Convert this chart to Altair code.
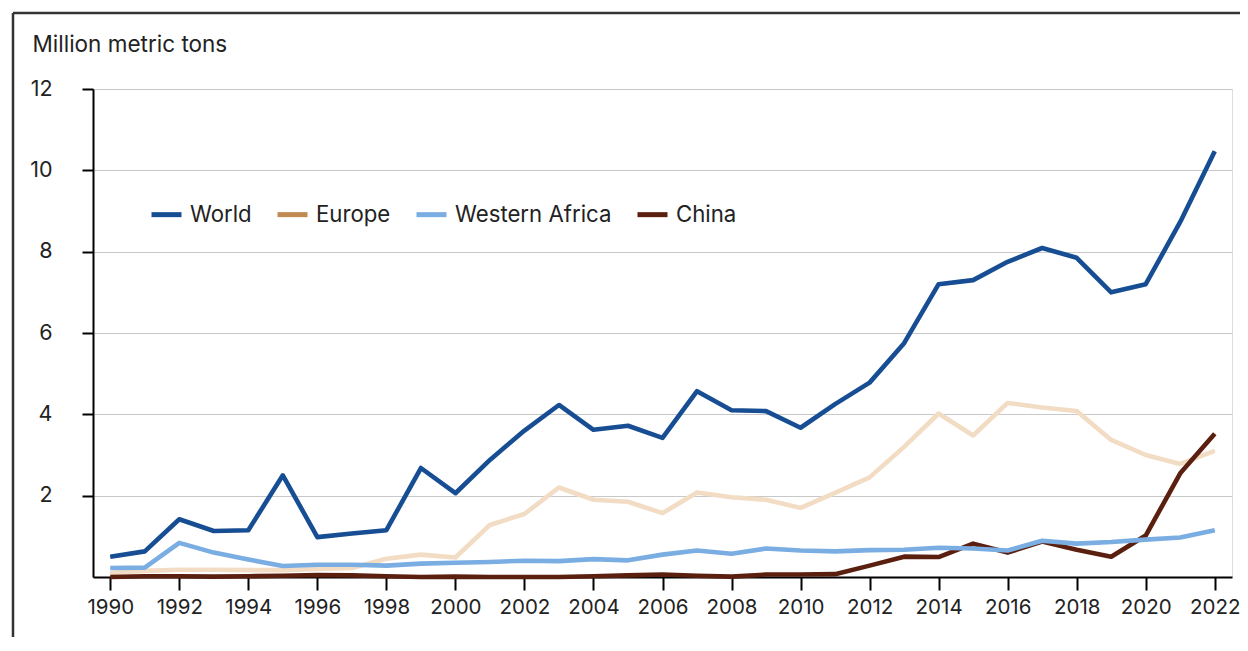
import altair as alt
import pandas as pd

years = list(range(1990, 2023))
world = [0.50, 0.63, 1.42, 1.13, 1.15, 2.50, 0.98, 1.07, 1.15, 2.68, 2.06, 2.88, 3.60, 4.23,
         3.62, 3.72, 3.42, 4.57, 4.10, 4.08, 3.67, 4.25, 4.78, 5.75, 7.20, 7.30, 7.75, 8.09,
         7.85, 7.00, 7.20, 8.73, 10.47]
europe = [0.10, 0.15, 0.18, 0.18, 0.17, 0.17, 0.20, 0.22, 0.45, 0.55, 0.48, 1.28, 1.55, 2.20,
          1.90, 1.85, 1.57, 2.08, 1.96, 1.90, 1.70, 2.07, 2.45, 3.20, 4.02, 3.48, 4.28, 4.17,
          4.08, 3.37, 3.00, 2.78, 3.10]
western_africa = [0.22, 0.23, 0.84, 0.60, 0.43, 0.27, 0.30, 0.30, 0.28, 0.33, 0.35, 0.37, 0.40,
                  0.39, 0.44, 0.41, 0.55, 0.65, 0.57, 0.70, 0.65, 0.63, 0.66, 0.67, 0.72, 0.70,
                  0.65, 0.89, 0.82, 0.86, 0.92, 0.97, 1.15]
china = [0.00, 0.02, 0.02, 0.01, 0.02, 0.03, 0.05, 0.04, 0.02, 0.00, 0.01, 0.00, 0.00, 0.00,
         0.02, 0.04, 0.06, 0.03, 0.01, 0.06, 0.06, 0.07, 0.28, 0.50, 0.49, 0.82, 0.60, 0.87,
         0.67, 0.50, 1.02, 2.55, 3.52]

series_names = ["World", "Europe", "Western Africa", "China"]
line_colors = ["#174e93", "#f2dcc4", "#7aade2", "#5b1f10"]
legend_colors = ["#174e93", "#c08a50", "#7aade2", "#5b1f10"]
draw_order = ["Europe", "China", "Western Africa", "World"]
y_ticks = [2, 4, 6, 8, 10, 12]
x_ticks = list(range(1990, 2023, 2))
y_title = "Million metric tons"

rows = []
for name, vals in zip(series_names, [world, europe, western_africa, china]):
    for yr, v in zip(years, vals):
        rows.append({"year": yr, "value": v, "series": name})
df = pd.DataFrame(rows)

W, H = 1139, 488
FONT = "Inter"
TXT = "#222222"

x_enc = alt.X(
    "year:Q",
    scale=alt.Scale(domain=[1989.5, 2022.5], nice=False, zero=False),
    axis=alt.Axis(values=x_ticks, format="d", grid=False, title=None,
                  domainColor="#000000", domainWidth=2, tickColor="#000000",
                  tickWidth=2, tickSize=13, labelFontSize=20.5, labelColor=TXT,
                  labelPadding=7, labelFont=FONT),
)
y_enc = alt.Y(
    "value:Q",
    scale=alt.Scale(domain=[0, 12], nice=False),
    axis=alt.Axis(values=y_ticks, grid=True, gridColor="#c8c8c8", gridWidth=1,
                  domainColor="#000000", domainWidth=2, tickColor="#000000",
                  tickWidth=2, tickSize=11, labelFontSize=21.5, labelColor=TXT,
                  labelPadding=30, labelFont=FONT,
                  title=y_title, titleAngle=0, titleX=-61, titleY=-38,
                  titleAlign="left", titleBaseline="alphabetic", titleFontSize=22.5,
                  titleFontWeight="normal", titleColor=TXT, titleFont=FONT),
)

legend_layer = alt.Chart(df).mark_line(strokeWidth=1).encode(
    x=x_enc,
    y=y_enc,
    color=alt.Color(
        "series:N",
        scale=alt.Scale(domain=series_names, range=legend_colors),
        legend=alt.Legend(
            title=None, orient="none", direction="horizontal", legendX=56, legendY=108,
            symbolType="stroke", symbolSize=900, symbolStrokeWidth=5,
            labelFontSize=22.2, labelColor=TXT, labelFont=FONT, labelOffset=6,
            labelLimit=400, columnPadding=15, padding=0,
        ),
    ),
)

layers = [legend_layer]
for name in draw_order:
    col = line_colors[series_names.index(name)]
    layers.append(
        alt.Chart(df).transform_filter(alt.datum.series == name)
        .mark_line(color=col, strokeWidth=4.6, strokeJoin="round")
        .encode(x=x_enc, y=y_enc)
    )

frame_df = pd.DataFrame({"k": [0]})
frame_top = alt.Chart(frame_df).mark_rule(color="#333333", strokeWidth=2.5).encode(
    x=alt.value(-80), x2=alt.value(W + 20), y=alt.value(-76)
)
frame_left = alt.Chart(frame_df).mark_rule(color="#333333", strokeWidth=2.5).encode(
    x=alt.value(-80), y=alt.value(-76), y2=alt.value(H + 80)
)

chart = alt.layer(*layers, frame_top, frame_left).resolve_scale(
    color="independent"
).properties(
    width=W, height=H,
    autosize=alt.AutoSizeParams(type="none"),
    padding={"left": 85, "top": 81, "right": 8, "bottom": 60},
).configure_view(stroke=None).configure(font=FONT)

chart.save("out.html", embed_options={"renderer": "svg", "actions": False})
